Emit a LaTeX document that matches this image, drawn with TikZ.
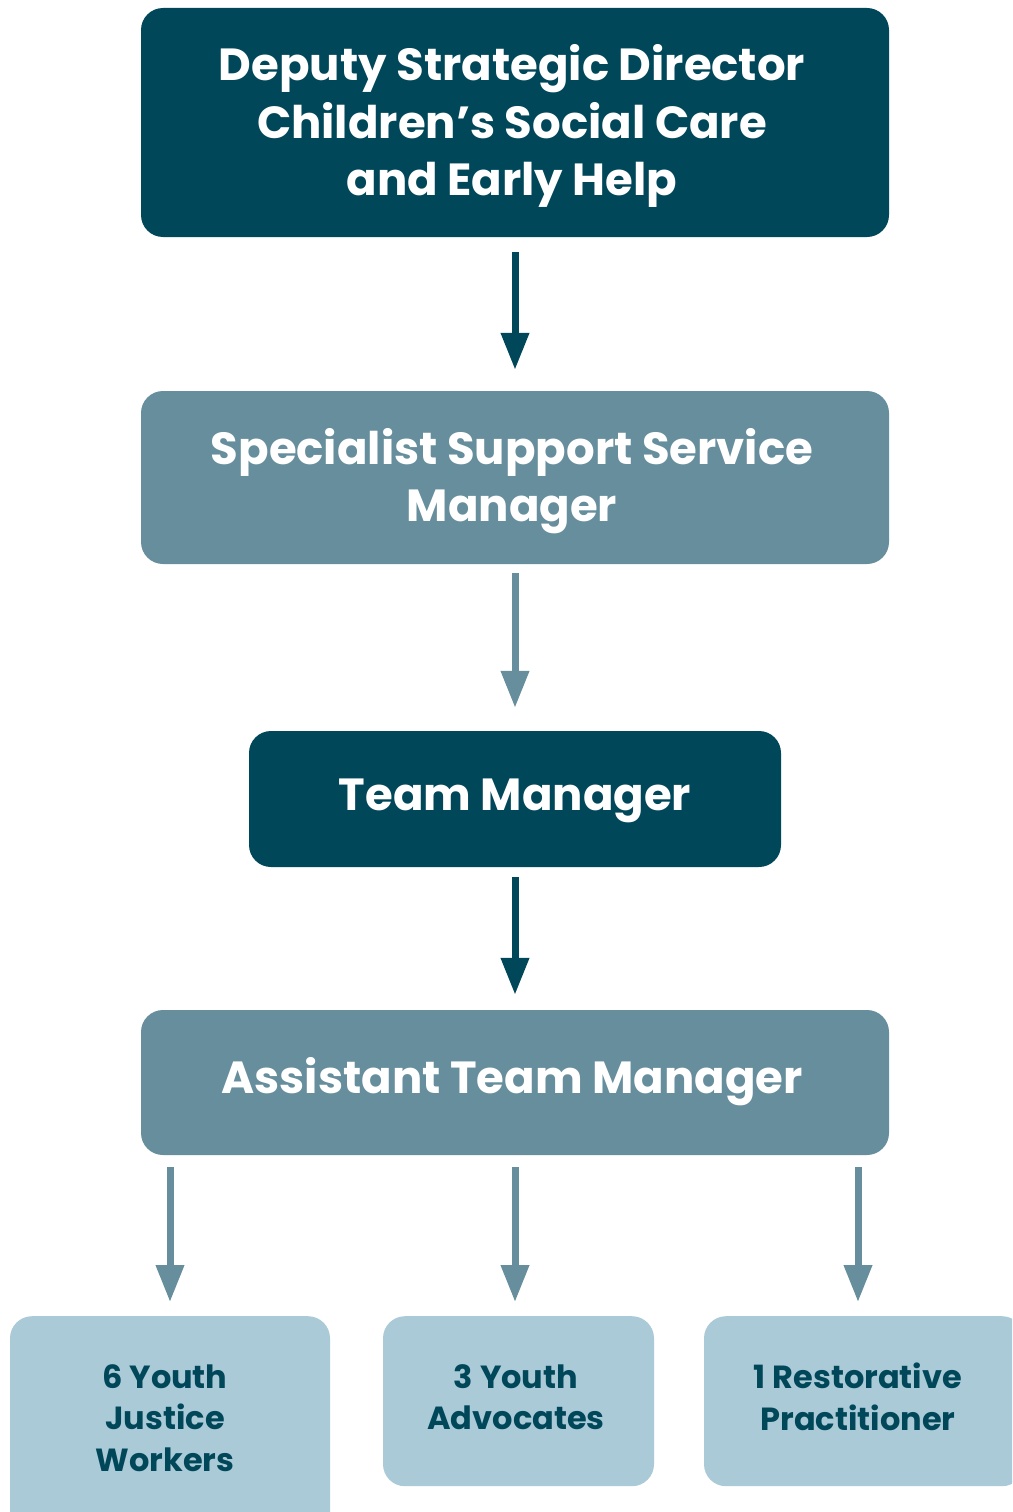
\documentclass[tikz,border=0pt]{standalone}
\usepackage{fontspec}
\setmainfont{Poppins}
\usetikzlibrary{arrows.meta}
\definecolor{darkteal}{RGB}{0,71,90}
\definecolor{midteal}{RGB}{102,142,157}
\definecolor{lightteal}{RGB}{171,202,215}
\tikzset{
  box/.style={rounded corners=22pt, inner sep=0pt},
  bigtext/.style={text=white, align=center, font=\bfseries\fontsize{45}{57.5}\selectfont},
  smalltext/.style={text=darkteal, align=center, font=\bfseries\fontsize{32}{41.5}\selectfont},
  smallbox/.style={box, fill=lightteal},
  arr/.style={line width=7pt, -{Triangle[width=27pt,length=37pt]}},
}
\begin{document}
\begin{tikzpicture}[x=1pt,y=-1pt]
\useasboundingbox (0,0) rectangle (1012,1512);
\clip (0,0) rectangle (1012,1512);
\node[box, fill=darkteal, minimum width=748pt, minimum height=229pt] (dsd) at (515,122.5) {};
\node[bigtext] (dsdt) at (512,126) {Deputy Strategic Director\\Children’s Social Care\\and Early Help};
\node[box, fill=midteal, minimum width=748pt, minimum height=173pt] (sssm) at (515,477.5) {};
\node[bigtext] (sssmt) at (512,481) {Specialist Support Service\\Manager};
\node[box, fill=darkteal, minimum width=532pt, minimum height=136pt] (tm) at (515,799) {};
\node[bigtext] (tmt) at (515,801) {Team Manager};
\node[box, fill=midteal, minimum width=748pt, minimum height=145pt] (atm) at (515,1082.5) {};
\node[bigtext] (atmt) at (512,1082) {Assistant Team Manager};
\node[smallbox, minimum width=320pt, minimum height=230pt, anchor=north] (yjw) at (170,1316) {};
\node[smalltext] (yjwt) at (165,1418) {6 Youth\\Justice\\Workers};
\node[smallbox, minimum width=271pt, minimum height=170pt, anchor=north] (ya) at (518.5,1316) {};
\node[smalltext] (yat) at (516,1397) {3 Youth\\Advocates};
\node[smallbox, minimum width=320pt, minimum height=170pt, anchor=north] (rp) at (864,1316) {};
\node[smalltext] (rpt) at (858,1397) {1 Restorative\\Practitioner};
\draw[arr, darkteal, shorten <=15pt, shorten >=21pt] (dsd.south) -- (dsd.south |- sssm.north);
\draw[arr, midteal, shorten <=9pt, shorten >=23pt] (sssm.south) -- (sssm.south |- tm.north);
\draw[arr, darkteal, shorten <=10pt, shorten >=15pt] (tm.south) -- (tm.south |- atm.north);
\draw[arr, midteal, shorten <=12pt, shorten >=14pt] (atm.south -| yjw.north) -- (yjw.north);
\draw[arr, midteal, shorten <=12pt, shorten >=14pt] (atm.south) -- (atm.south |- ya.north);
\draw[arr, midteal, shorten <=12pt, shorten >=14pt] (atm.south -| rpt.center) -- (rpt.center |- rp.north);
\end{tikzpicture}
\end{document}
